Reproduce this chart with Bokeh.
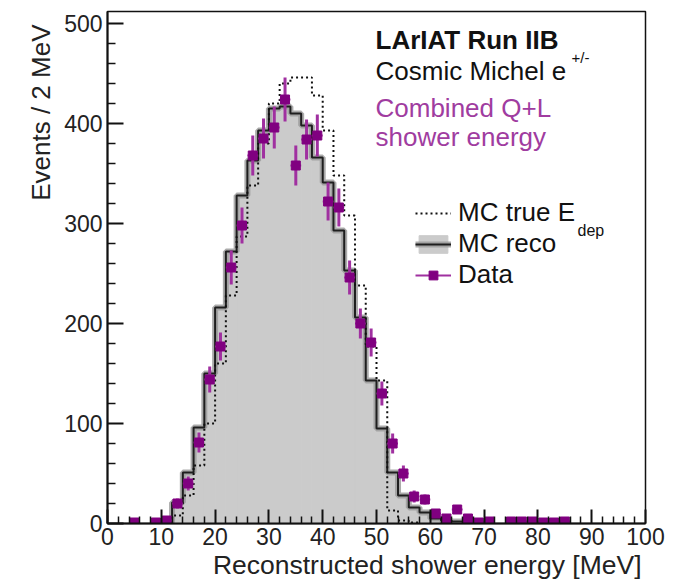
import math
from bokeh.plotting import figure
from bokeh.models import Range1d, FixedTicker, Label, Legend, LegendItem, ColumnDataSource, Title
from bokeh.embed import file_html
from bokeh.resources import INLINE

# ---------------- data ----------------
bin_width = 2
bin_lo = [0, 2, 4, 6, 8, 10, 12, 14, 16, 18, 20, 22, 24, 26, 28, 30, 32, 34, 36, 38,
          40, 42, 44, 46, 48, 50, 52, 54, 56, 58, 60, 62, 64, 66, 68, 70, 72, 74, 76, 78,
          80, 82, 84, 86, 88, 90, 92, 94, 96, 98]

mc_true = [0, 0, 0, 0, 0, 0, 8, 28, 58, 100, 160, 228, 287, 338, 380, 420, 440, 446, 446, 428,
           393, 348, 308, 238, 177, 143, 13, 3, 1, 0, 0, 0, 0, 0, 0, 0, 0, 0, 0, 0,
           0, 0, 0, 0, 0, 0, 0, 0, 0, 0]

mc_reco = [0, 0, 0, 0, 0, 1, 21, 51, 96, 150, 216, 272, 328, 363, 393, 415, 417, 410, 398, 366,
           341, 293, 253, 206, 143, 95, 51, 28, 16, 11, 5, 3, 2, 1, 1, 0, 0, 0, 0, 0,
           0, 0, 0, 0, 0, 0, 0, 0, 0, 0]

data_n = [0, 0, 1, 0, 1, 3, 20, 40, 81, 144, 177, 256, 298, 368, 385, 396, 424, 358, 384, 388,
          322, 316, 246, 200, 181, 130, 80, 50, 27, 24, 10, 5, 14, 5, 1, 2, 0, 2, 2, 2,
          1, 1, 2, 0, 0, 0, 0, 0, 0, 0]

data_err = [0, 0, 1, 0, 1, 2, 5, 7, 10, 13, 14, 17, 18, 20, 20, 21, 22, 20, 20, 21,
            19, 19, 17, 15, 14, 12, 10, 8, 6, 5, 3, 2, 4, 2, 1, 1, 0, 1, 1, 1,
            1, 1, 1, 0, 0, 0, 0, 0, 0, 0]

x_major = [0, 10, 20, 30, 40, 50, 60, 70, 80, 90, 100]
x_minor = [v for v in range(0, 101, 2) if v % 10]
y_major = [0, 100, 200, 300, 400, 500]
y_minor = [v for v in range(0, 512, 20) if v % 100]

x_title = "Reconstructed shower energy [MeV]"
y_title = "Events / 2 MeV"

FONT = "Liberation Sans"
PURPLE = "#800080"
PURPLE_TXT = "#a03ca0"

# ---------------- figure ----------------
p = figure(width=684, height=584, output_backend="svg", toolbar_location=None,
           x_range=Range1d(0, 100), y_range=Range1d(0, 512),
           min_border_left=107, min_border_right=39, min_border_top=11, min_border_bottom=61)
p.grid.visible = False
p.background_fill_color = "white"
p.border_fill_color = "white"
p.outline_line_color = "#111111"
p.outline_line_width = 1.5

def step_xy(lo, vals):
    nz = [i for i, v in enumerate(vals) if v > 0]
    a, b = nz[0], nz[-1]
    xs = [lo[a]]
    ys = [0]
    for i in range(a, b + 1):
        xs += [lo[i], lo[i] + bin_width]
        ys += [vals[i], vals[i]]
    xs.append(lo[b] + bin_width)
    ys.append(0)
    return xs, ys

hist = ColumnDataSource(dict(left=bin_lo, right=[b + bin_width for b in bin_lo],
                             top=mc_reco, bottom=[0] * len(bin_lo)))
r_fill = p.quad(left="left", right="right", top="top", bottom="bottom", source=hist,
                fill_color="#cbcbcb", line_color="#cbcbcb", line_width=1)
rx, ry = step_xy(bin_lo, mc_reco)
r_band = p.line(rx, ry, line_color="#9c9c9c", line_width=6, line_alpha=0.85)
r_reco = p.line(rx, ry, line_color="#1e1e1e", line_width=2)
tx, ty = step_xy(bin_lo, mc_true)
r_true = p.line(tx, ty, line_color="#111111", line_width=2, line_dash="2 3")

idx = [i for i, n in enumerate(data_n) if n > 0]
dsrc = ColumnDataSource(dict(
    x=[bin_lo[i] + bin_width / 2 for i in idx],
    y=[data_n[i] for i in idx],
    ylo=[data_n[i] - data_err[i] for i in idx],
    yhi=[data_n[i] + data_err[i] for i in idx],
    x0=[bin_lo[i] for i in idx],
    x1=[bin_lo[i] + bin_width for i in idx],
))
r_v = p.segment(x0="x", y0="ylo", x1="x", y1="yhi", source=dsrc, line_color="#a030a0", line_width=3)
r_h = p.segment(x0="x0", y0="y", x1="x1", y1="y", source=dsrc, line_color="#a030a0", line_width=2)
r_m = p.scatter(x="x", y="y", source=dsrc, marker="square", size=9, color=PURPLE)

# ---------------- axes ----------------
for ax in (p.xaxis, p.yaxis):
    ax.axis_line_width = 2
    ax.axis_line_color = "#111111"
    ax.major_tick_line_width = 2
    ax.minor_tick_line_width = 1.5
    ax.major_tick_line_color = "#111111"
    ax.minor_tick_line_color = "#111111"
    ax.major_tick_out = 0
    ax.minor_tick_out = 0
    ax.major_label_text_font = FONT
    ax.major_label_text_font_size = "23px"
    ax.major_label_text_color = "#222222"

p.xaxis.ticker = FixedTicker(ticks=x_major, minor_ticks=x_minor)
p.yaxis.ticker = FixedTicker(ticks=y_major, minor_ticks=y_minor)
p.xaxis.major_tick_in = 14
p.xaxis.minor_tick_in = 7
p.yaxis.major_tick_in = 16
p.yaxis.minor_tick_in = 8
p.xaxis.major_label_standoff = 4
p.yaxis.major_label_standoff = 5

# axis titles, right-aligned as in ROOT
t_y = Title(text=y_title, align="right", text_font=FONT, text_font_size="26px",
            text_font_style="normal", text_color="#222222", standoff=12, offset=13)
p.add_layout(t_y, "left")
t_x = Title(text=x_title, align="right", text_font=FONT, text_font_size="26.5px",
            text_font_style="normal", text_color="#222222", standoff=0, offset=4)
p.add_layout(t_x, "below")

# ---------------- legend ----------------
legend = Legend(items=[
    LegendItem(label="MC true E", renderers=[r_true]),
    LegendItem(label="MC reco", renderers=[r_fill, r_band, r_reco]),
    LegendItem(label="Data", renderers=[r_h, r_m]),
], location=(308, 233))
legend.label_text_font = FONT
legend.label_text_font_size = "26px"
legend.label_text_color = "#111111"
legend.glyph_width = 36
legend.glyph_height = 22
legend.label_height = 22
legend.label_standoff = 7
legend.spacing = 0
legend.padding = 0
legend.margin = 0
legend.border_line_alpha = 0
legend.background_fill_alpha = 0
p.add_layout(legend)

# ---------------- texts ----------------
def lab(text, x, y, size, color="#111111", style="normal"):
    p.add_layout(Label(x=x, y=y, x_units="screen", y_units="screen", text=text,
                       text_font=FONT, text_font_size=size, text_color=color,
                       text_font_style=style, text_align="left", text_baseline="alphabetic"))

lab("dep", 470, 293, "16px")
lab("LArIAT Run IIB", 268, 484, "26px", style="bold")
lab("Cosmic Michel e", 268, 453, "26px")
lab("+/-", 464, 466, "15px")
lab("Combined Q+L", 268, 416, "26px", color=PURPLE_TXT)
lab("shower energy", 268, 387, "26px", color=PURPLE_TXT)

open("out.html", "w").write(file_html(p, INLINE))
